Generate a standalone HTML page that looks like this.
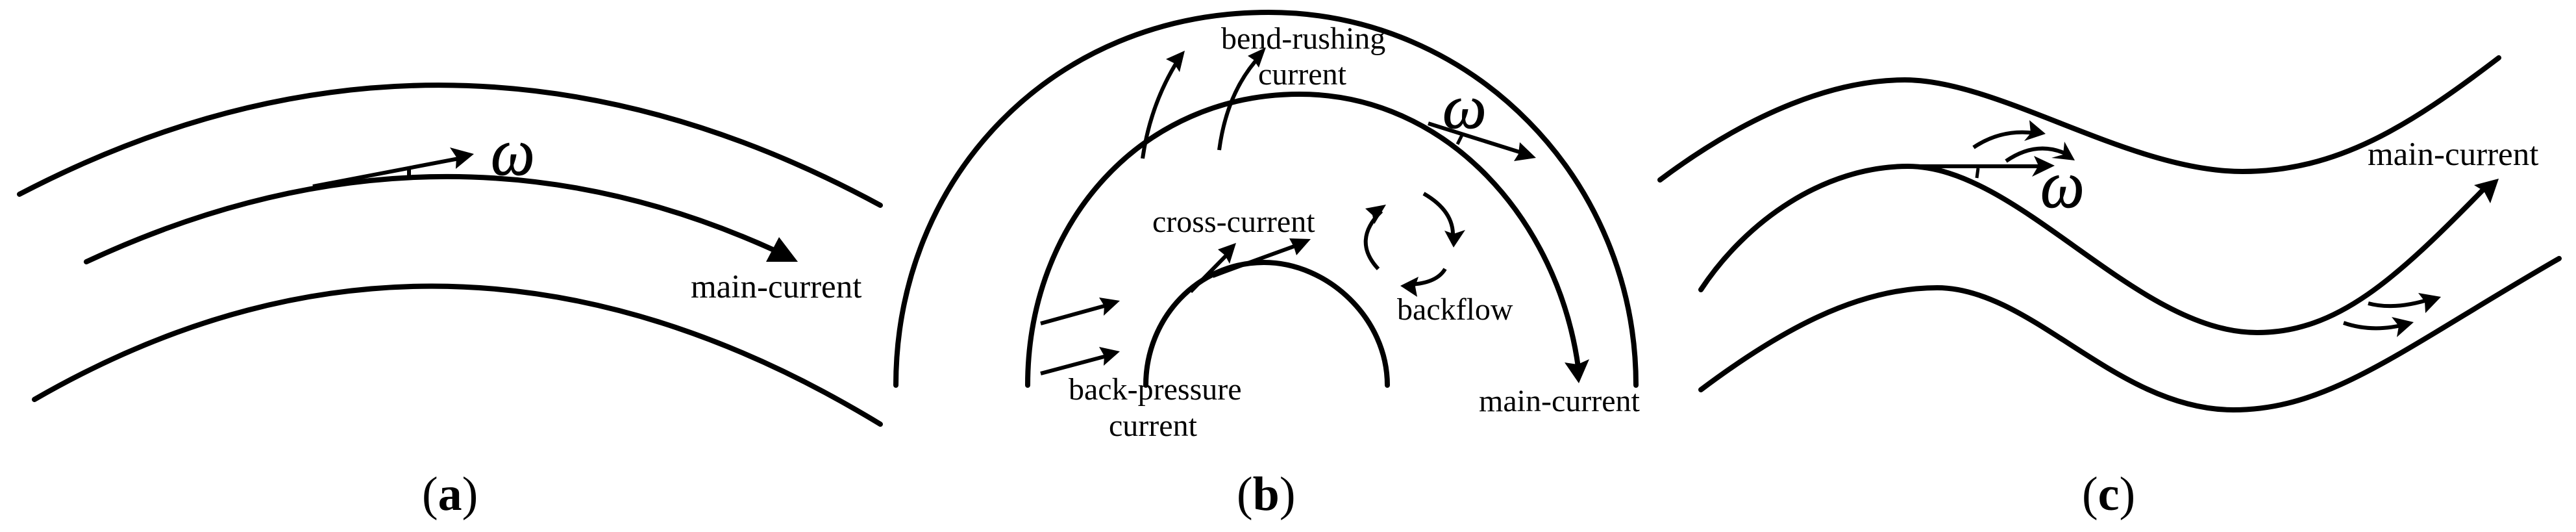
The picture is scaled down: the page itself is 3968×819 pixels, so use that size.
<!DOCTYPE html>
<html><head><meta charset="utf-8"><style>
html,body{margin:0;padding:0;background:#fff}
svg{display:block}
text{font-family:"Liberation Serif",serif;fill:#000}
.m{fill:none;stroke:#000;stroke-width:8;stroke-linecap:round}
.t{fill:none;stroke:#000;stroke-width:6;stroke-linecap:butt}
.w{font-style:italic;font-size:96px;stroke:#000;stroke-width:.8}
.l{font-size:51px}
.b{font-size:48px}
.c{font-size:74px}
.c tspan{font-weight:bold}
</style></head><body>
<svg width="3968" height="819" viewBox="0 0 3968 819" xmlns="http://www.w3.org/2000/svg">
<rect width="3968" height="819" fill="#fff"/>
<!-- a -->
<path class="m" d="M30,299Q690,-45 1356,316"/>
<path class="m" d="M133,403Q680,148 1201,389"/>
<path class="m" d="M53,615Q690,248 1356,653"/>
<polygon points="1200,365 1229,403 1180,403"/>
<path class="t" d="M482,287L712,243"/>
<polygon points="730,237 693,227 703,242 702,260"/>
<path d="M630,258V270" stroke="#000" stroke-width="6"/>
<text class="w" transform="translate(756,269) scale(1,1.08)">ω</text>
<text class="l" x="1064" y="458">main-current</text>
<text class="c" x="650" y="785">(<tspan>a</tspan>)</text>
<!-- b -->
<path class="m" d="M1380,593C1380,275 1620,19 1954,19C2268,19 2520,277 2520,593"/>
<path class="m" d="M1583,593C1583,340 1760,145 2002,145C2230,145 2400,340 2431,565"/>
<polygon points="2432,590 2410,558 2430,561 2448,553"/>
<path class="m" d="M1765,593C1765,490 1845,404 1947,404C2045,404 2137,490 2137,593"/>
<path class="t" d="M1760,244Q1772,160 1815,92"/>
<polygon points="1825,78 1796,91 1808,97 1817,111"/>
<path class="t" d="M1878,231Q1890,140 1942,85"/>
<polygon points="1950,73 1922,86 1931,92 1939,104"/>
<path class="t" d="M2200,190L2350,237"/>
<polygon points="2366,243 2341,219 2339,237 2332,248"/>
<path d="M2252,208L2245,222" stroke="#000" stroke-width="5"/>
<text class="w" transform="translate(2222,197)">ω</text>
<path class="t" d="M1834,449L1896,386"/>
<polygon points="1904,374 1876,384 1887,393 1894,406"/>
<path class="t" d="M1868,425Q1930,402 2005,375"/>
<polygon points="2019,368 1986,367 1993,380 1997,393"/>
<path class="t" d="M1603,498L1712,468"/>
<polygon points="1725,463 1693,458 1701,471 1700,486"/>
<path class="t" d="M1603,575L1712,546"/>
<polygon points="1725,541 1693,534 1701,548 1700,563"/>
<path class="t" d="M2123,414Q2082,370 2128,325"/>
<polygon points="2135,315 2103,321 2114,331 2117,345"/>
<path class="t" d="M2193,298Q2240,325 2238,365"/>
<polygon points="2239,381 2225,355 2239,360 2257,354"/>
<path class="t" d="M2226,414Q2213,436 2172,438"/>
<polygon points="2157,440 2185,426 2180,441 2183,457"/>
<text class="b" x="1881" y="75">bend-rushing</text>
<text class="b" x="1938" y="130">current</text>
<text class="b" x="1775" y="357">cross-current</text>
<text class="b" x="2152" y="492">backflow</text>
<text class="b" x="1646" y="615">back-pressure</text>
<text class="b" x="1708" y="671">current</text>
<text class="b" x="2278" y="633">main-current</text>
<text class="c" x="1905" y="785">(<tspan>b</tspan>)</text>
<!-- c -->
<path class="m" d="M2557,277C2700,170 2830,123 2934,123C3080,123 3280,264 3454,264C3600,264 3710,195 3849,89"/>
<path class="m" d="M2620,446C2690,340 2810,256 2939,256C3110,256 3290,512 3477,512C3600,512 3690,430 3825,292"/>
<polygon points="3849,275 3811,285 3826,294 3836,313"/>
<path class="m" d="M2620,600C2740,510 2860,443 2984,443C3130,443 3260,631 3440,631C3590,631 3700,537 3942,398"/>
<path class="t" d="M2939,256H3150"/>
<polygon points="3165,255 3133,240 3140,255 3130,272"/>
<path d="M3047,259L3045,274" stroke="#000" stroke-width="5"/>
<text class="w" transform="translate(3143,319) scale(1,1.08)">ω</text>
<path class="t" d="M3040,227Q3083,198 3135,205"/>
<polygon points="3151,206 3126,185 3128,205 3118,217"/>
<path class="t" d="M3090,248Q3138,215 3185,238"/>
<polygon points="3196,247 3180,218 3178,238 3160,243"/>
<path class="t" d="M3648,467Q3689,478 3745,460"/>
<polygon points="3760,457 3725,451 3735,464 3736,482"/>
<path class="t" d="M3610,497Q3653,512 3703,500"/>
<polygon points="3718,496 3684,488 3695,502 3692,519"/>
<text class="l" x="3647" y="254">main-current</text>
<text class="c" x="3207" y="785">(<tspan>c</tspan>)</text>
</svg>
</body></html>
